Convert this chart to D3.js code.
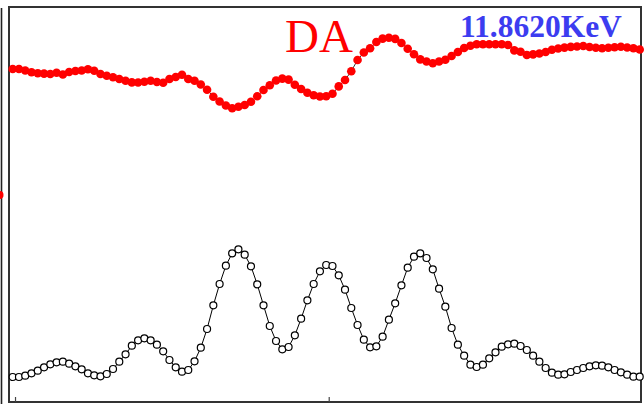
<!DOCTYPE html>
<html>
<head>
<meta charset="utf-8">
<script src="https://cdn.jsdelivr.net/npm/d3@7"></script>
<style>
  html, body { margin: 0; padding: 0; background: #fff; }
  svg { display: block; }
</style>
</head>
<body>
<svg id="chart" width="644" height="404"></svg>
<script>
// Sample index along the scan (101 points)
const samples = d3.range(101);

// DA spectrum (filled red markers), arbitrary intensity units
const daValues = [
  332, 332, 330.5, 328.7, 327.8, 327.4, 327, 328.3, 326.5, 329,
  330, 330.5, 331.7, 330.2, 327, 325.3, 323.8, 322, 320.2, 318.6,
  318.5, 319.2, 320.2, 319, 318.3, 322, 324, 326.2, 322, 320.3,
  316.5, 311.3, 304.3, 299.5, 295.5, 292.7, 294.3, 296, 299.3, 304.7,
  311, 315.8, 320.5, 322.4, 321.4, 316.2, 312, 308.2, 305.7, 304.5,
  304.8, 307.2, 314.6, 321, 329.8, 341, 348.5, 352.7, 359, 362.4,
  363.2, 362.1, 358, 352.3, 346.7, 341.6, 339.5, 337.8, 339.5, 341.2,
  345, 349, 353, 355.2, 356.7, 356.7, 356.7, 356.7, 356.7, 356,
  350.6, 349.2, 346, 346.6, 347.5, 349, 351.2, 352.5, 353.4, 354.1,
  354.5, 355, 354, 353.2, 352.7, 353.3, 353.8, 354.2, 353.5, 352.7,
  351.5
];

// Reference spectrum (open black markers), same units
const refValues = [
  24, 24, 25.3, 27.7, 30.3, 33.7, 36.7, 38.7, 39.3, 37.3,
  34.7, 31.7, 27.7, 25.7, 24.7, 27, 32, 39.3, 46.7, 55.3,
  60.7, 62.7, 60.7, 56.3, 49.7, 41, 33.7, 29.3, 31, 39.7,
  53.3, 72, 95.7, 117, 135.3, 147.7, 151.7, 146.3, 134.7, 116.7,
  95.7, 75, 60, 51.7, 54, 65.7, 82.3, 100.7, 117, 129.7,
  136, 135, 125.7, 111.3, 93, 76, 61.3, 53.7, 54.7, 64.3,
  81.3, 97.7, 115.7, 133.3, 144.3, 147.7, 143, 131.7, 112.3, 94.3,
  73, 56.3, 45.3, 36.3, 34, 36.3, 42.7, 48.7, 54.3, 56.7,
  57.3, 55, 51, 45.3, 39.3, 33, 28.3, 26.3, 26.7, 29,
  31, 33, 34.7, 35.7, 35.3, 33.7, 31, 28.7, 26.3, 24.3,
  24.3
];

// Bottom axis tick positions (in sample units)
const xTicks = [0.37, 50.4];

const labelSample = "DA";
const labelEnergy = "11.8620KeV";

const svg = d3.select("#chart");

const frame = { left: 9, top: 7, right: 641, bottom: 402 };

const x = d3.scaleLinear().domain([0, 100]).range([12.7, 639.7]);
const y = d3.scaleLinear().domain([0, 394]).range([401, 7]);

// Edge of the neighbouring panel on the left
svg.append("line")
  .attr("x1", 1.5).attr("x2", 1.5)
  .attr("y1", 8).attr("y2", 404)
  .attr("stroke", "#222").attr("stroke-width", 1.6);
svg.append("circle")
  .attr("cx", -0.5).attr("cy", 195).attr("r", 4)
  .attr("fill", "#ff0000");

// Plot frame
svg.append("rect")
  .attr("x", frame.left).attr("y", frame.top)
  .attr("width", frame.right - frame.left)
  .attr("height", frame.bottom - frame.top)
  .attr("fill", "none")
  .attr("stroke", "#333").attr("stroke-width", 2);

// Inward ticks on the bottom edge
const xAxis = d3.axisBottom(x).tickValues(xTicks).tickSize(-5).tickFormat("");
const gx = svg.append("g")
  .attr("transform", `translate(0,${frame.bottom})`)
  .call(xAxis);
gx.select(".domain").remove();
gx.selectAll(".tick line").attr("stroke", "#444").attr("stroke-width", 1.2);

const line = d3.line()
  .x((d, i) => x(samples[i]))
  .y(d => y(d));

// Reference spectrum: thin line with open circles
svg.append("path")
  .datum(refValues)
  .attr("d", line)
  .attr("fill", "none")
  .attr("stroke", "#000").attr("stroke-width", 1);
svg.append("g")
  .selectAll("circle")
  .data(refValues)
  .join("circle")
  .attr("cx", (d, i) => x(samples[i]))
  .attr("cy", d => y(d))
  .attr("r", 3.5)
  .attr("fill", "#fff")
  .attr("stroke", "#000")
  .attr("stroke-width", 1.2);

// DA spectrum: thin line with filled red circles
svg.append("path")
  .datum(daValues)
  .attr("d", line)
  .attr("fill", "none")
  .attr("stroke", "#000").attr("stroke-width", 0.8);
svg.append("g")
  .selectAll("circle")
  .data(daValues)
  .join("circle")
  .attr("cx", (d, i) => x(samples[i]))
  .attr("cy", d => y(d))
  .attr("r", 4.3)
  .attr("fill", "#ff0000");

// Labels
svg.append("text")
  .attr("x", 285).attr("y", 52)
  .attr("font-family", "'Liberation Serif', 'Times New Roman', serif")
  .attr("font-size", 47)
  .attr("fill", "#ff0000")
  .text(labelSample);

svg.append("text")
  .attr("x", 460).attr("y", 37)
  .attr("font-family", "'Liberation Serif', 'Times New Roman', serif")
  .attr("font-weight", "bold")
  .attr("font-size", 31.5)
  .attr("fill", "#3c3cf0")
  .text(labelEnergy);
</script>
</body>
</html>
